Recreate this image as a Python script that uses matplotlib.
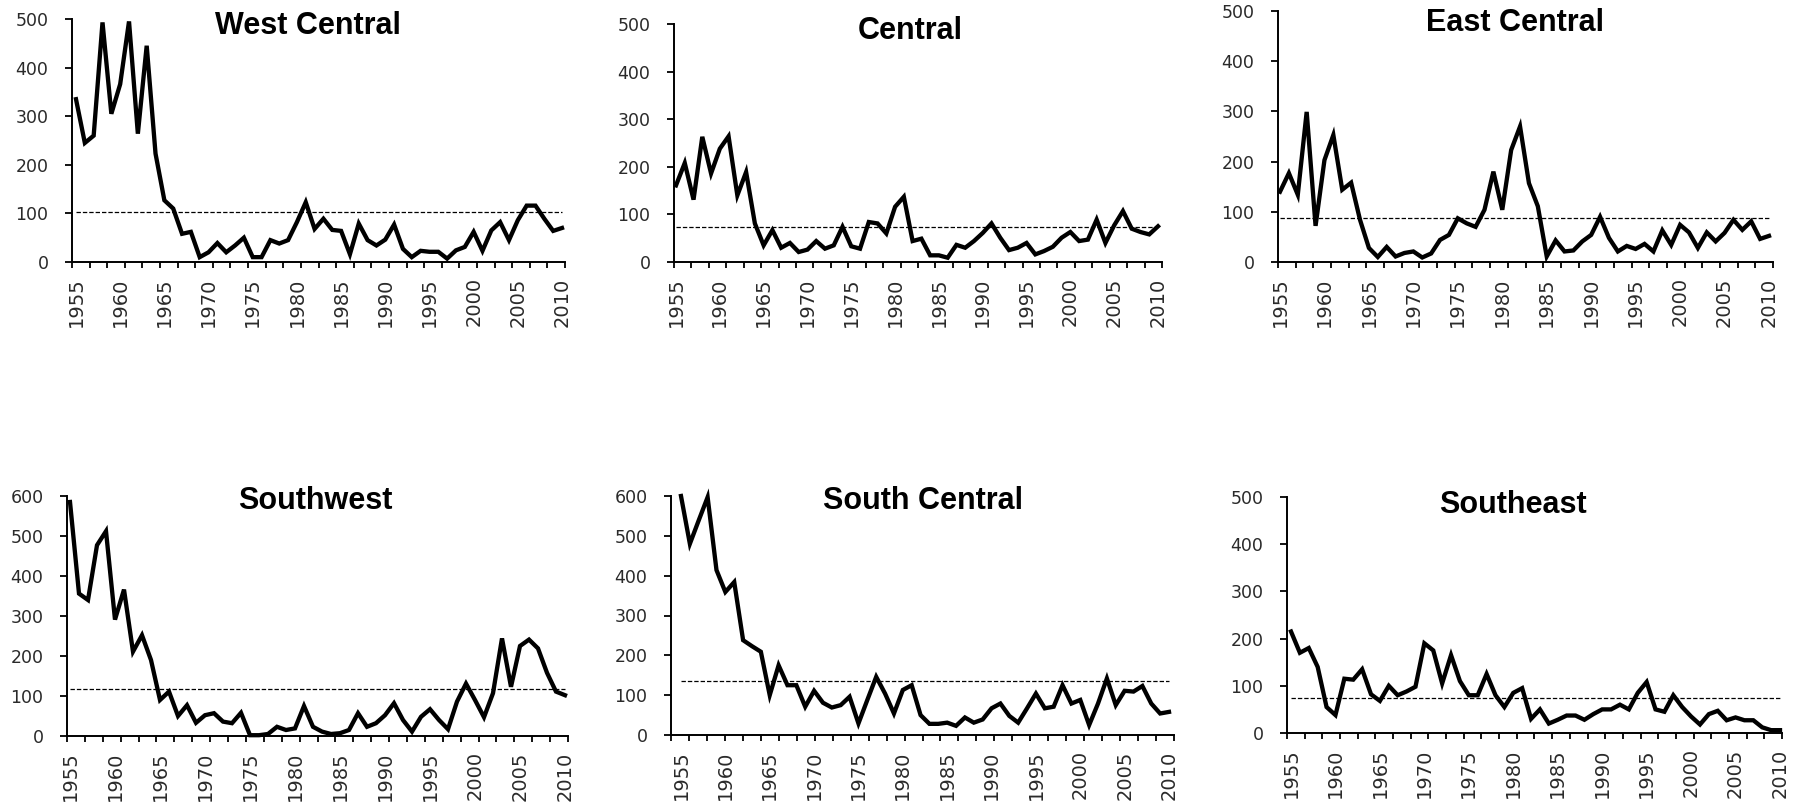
import numpy as np
import matplotlib
matplotlib.use("Agg")
import matplotlib.pyplot as plt

plt.rcParams["font.family"] = ["Liberation Sans", "DejaVu Sans"]

# ── Data ─────────────────────────────────────────────────────────────
years = list(range(1955, 2011))

west_central = [335, 245, 260, 493, 305, 366, 495, 264, 445, 223,
                127, 110, 58, 62, 10, 20, 39, 20, 34, 50,
                10, 10, 45, 38, 45, 82, 123, 68, 89, 66,
                64, 16, 79, 45, 34, 46, 77, 27, 10, 23,
                21, 21, 7, 24, 31, 62, 23, 65, 82, 45,
                86, 116, 116, 89, 64, 70]

central = [161, 208, 131, 263, 186, 238, 264, 140, 189, 81,
           35, 67, 30, 40, 21, 26, 44, 28, 35, 74,
           33, 28, 84, 81, 60, 116, 137, 44, 49, 14,
           14, 9, 36, 30, 44, 61, 81, 51, 25, 30,
           40, 16, 23, 32, 51, 63, 44, 47, 89, 40,
           77, 107, 70, 63, 58, 75]

east_central = [140, 177, 134, 299, 72, 203, 253, 144, 158, 84,
                28, 10, 30, 11, 18, 21, 9, 17, 44, 54,
                87, 77, 70, 104, 180, 104, 223, 270, 157, 111,
                11, 43, 21, 23, 41, 54, 90, 48, 21, 32,
                26, 36, 21, 63, 34, 74, 59, 28, 59, 41,
                58, 84, 64, 81, 46, 52]

southwest = [585, 356, 340, 477, 512, 291, 366, 211, 252, 190,
             90, 111, 50, 77, 33, 52, 57, 36, 32, 58,
             2, 2, 5, 23, 15, 19, 75, 23, 11, 5,
             7, 15, 57, 23, 32, 52, 82, 40, 11, 48,
             67, 40, 17, 86, 131, 90, 47, 107, 244, 123,
             225, 241, 219, 158, 111, 102]

south_central = [600, 480, 539, 597, 414, 359, 384, 238, 223, 209,
                 100, 175, 125, 125, 71, 111, 81, 69, 75, 96,
                 29, 88, 146, 104, 54, 113, 125, 50, 28, 28,
                 31, 23, 44, 31, 39, 67, 79, 48, 31, 67,
                 104, 67, 71, 125, 79, 88, 25, 79, 142, 75,
                 111, 109, 123, 79, 54, 58]

southeast = [215, 170, 180, 140, 55, 38, 115, 113, 135, 82,
             68, 100, 80, 88, 98, 190, 175, 105, 165, 110,
             80, 80, 125, 80, 55, 85, 95, 30, 50, 20,
             28, 37, 37, 28, 40, 50, 50, 60, 50, 85,
             108, 50, 45, 80, 55, 35, 18, 40, 47, 27,
             33, 27, 27, 12, 6, 6]

titles = ["West Central", "Central", "East Central",
          "Southwest", "South Central", "Southeast"]
series = [west_central, central, east_central,
          southwest, south_central, southeast]
means = [103, 74, 87, 117, 136, 75]
y_max = [500, 500, 500, 600, 600, 500]
label_years = list(range(1955, 2011, 5))

W, H = 1795, 807
# left spine, right end, top, bottom of each plot area in pixels
boxes = [(72, 565, 19, 262), (674, 1162, 24, 262), (1278, 1773, 11, 262),
         (67, 568, 496, 736), (671, 1174, 496, 735), (1287, 1782, 497, 733)]
# pixel x of the first and last year on each axis
year_px = [(76, 562), (676, 1158), (1280, 1769),
           (70, 565), (681, 1169), (1291, 1780)]
# title centre x and baseline y in pixels
title_pos = [(308, 34), (910, 39), (1515, 31),
             (315, 509), (923, 509), (1513, 513)]

# tick labels in the reference are stretched wide; DejaVu's wider digits fit better
tick_font = "DejaVu Sans"

fig = plt.figure(figsize=(W / 100, H / 100), dpi=100)

for i in range(6):
    l, r, t, b = boxes[i]
    ax = fig.add_axes([l / W, 1 - b / H, (r - l) / W, (b - t) / H])

    ax.plot(years, series[i], color="black", lw=3.1, clip_on=False,
            solid_joinstyle="miter", zorder=3)
    ax.hlines(means[i], years[0], years[-1], colors="black", lw=0.9,
              linestyles=(0, (3.5, 1.6)), zorder=2)

    # x limits so that the first/last years land where they do in the reference
    p0, p1 = year_px[i]
    per_year = (p1 - p0) / (years[-1] - years[0])
    x0 = years[0] - (p0 - l) / per_year
    x1 = years[-1] + (r - p1) / per_year
    ax.set_xlim(x0, x1)
    ax.set_ylim(0, y_max[i])
    ax.set_yticks(range(0, y_max[i] + 1, 100))

    # year labels every 5 years, tick marks roughly every 2 years
    ax.set_xticks(label_years)
    ax.set_xticklabels([str(y) for y in label_years], rotation=90,
                       family=tick_font)
    ax.set_xticks(np.linspace(x0, x1, 29), minor=True)
    for lab in ax.get_yticklabels():
        lab.set_family(tick_font)
    ax.tick_params(axis="x", which="major", length=0, pad=11,
                   labelsize=14, labelcolor="#2a2a2a")
    ax.tick_params(axis="x", which="minor", length=4, width=1.3,
                   direction="out", color="black")
    ax.tick_params(axis="y", length=5, width=1.3, direction="out",
                   pad=12, labelsize=12.5, labelcolor="#2a2a2a")

    for side in ["top", "right"]:
        ax.spines[side].set_visible(False)
    for side in ["left", "bottom"]:
        ax.spines[side].set_linewidth(1.4)

    tx, ty = title_pos[i]
    fig.text(tx / W, 1 - ty / H, titles[i], ha="center", va="baseline",
             fontsize=22, fontweight="bold")

fig.savefig("out.png", dpi=100)
